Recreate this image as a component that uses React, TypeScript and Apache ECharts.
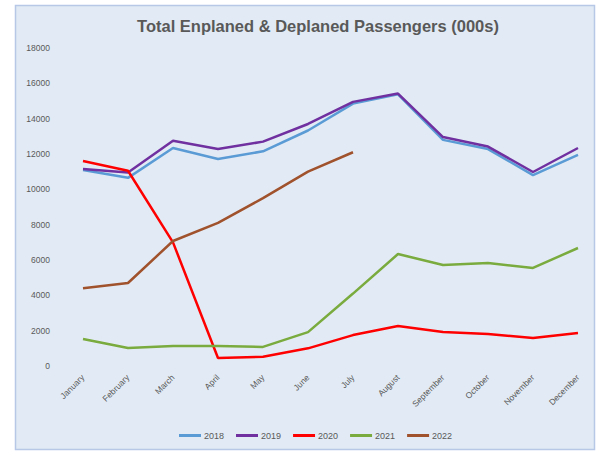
import React, { useEffect, useRef } from "react";
import * as echarts from "echarts";

const months = ["January", "February", "March", "April", "May", "June", "July", "August", "September", "October", "November", "December"];
const s2018 = [11100, 10650, 12340, 11720, 12150, 13330, 14850, 15380, 12800, 12280, 10800, 11950];
const s2019 = [11150, 10950, 12750, 12280, 12700, 13700, 14950, 15420, 12960, 12420, 10980, 12340];
const s2020 = [11600, 11050, 7000, 450, 520, 1000, 1750, 2260, 1920, 1810, 1580, 1870];
const s2021 = [1530, 1020, 1130, 1130, 1080, 1920, 4100, 6340, 5720, 5830, 5550, 6680];
const s2022 = [4400, 4700, 7075, 8100, 9500, 11000, 12100];
const seriesNames = ["2018", "2019", "2020", "2021", "2022"];
const colors = ["#5b9bd5", "#7030a0", "#ff0000", "#7aab3e", "#a0522d"];

export default function App() {
  const ref = useRef<HTMLDivElement>(null);
  useEffect(() => {
    if (!ref.current) return;
    const chart = echarts.init(ref.current, undefined, { renderer: "svg" });
    const data = [s2018, s2019, s2020, s2021, s2022];
    chart.setOption({
      animation: false,
      backgroundColor: "#ffffff",
      color: colors,
      graphic: [
        {
          type: "rect",
          z: -10,
          silent: true,
          shape: { x: 15.5, y: 5.5, width: 579, height: 444 },
          style: { fill: "#e2ebf5", stroke: "#b7c8e6", lineWidth: 1.5 },
        },
      ],
      title: {
        text: "Total Enplaned & Deplaned Passengers (000s)",
        left: 313,
        textAlign: "center",
        top: 12,
        textStyle: { fontFamily: "Liberation Sans", fontWeight: "bold", fontSize: 16.5, color: "#595959" },
      },
      legend: {
        bottom: 10,
        left: 174,
        data: seriesNames,
        itemWidth: 22,
        itemHeight: 3,
        itemGap: 12,
        icon: "rect",
        textStyle: { fontFamily: "Liberation Sans", fontSize: 9, color: "#595959", padding: [0, 0, 0, -2] },
      },
      grid: { left: 83, right: 18, top: 48, bottom: 89, containLabel: false },
      xAxis: {
        type: "category",
        data: months,
        boundaryGap: false,
        axisLine: { show: false },
        axisTick: { show: false },
        axisLabel: {
          rotate: 45,
          fontFamily: "Liberation Sans",
          fontSize: 8.5,
          color: "#595959",
          margin: 10,
          interval: 0,
        },
      },
      yAxis: {
        type: "value",
        min: 0,
        max: 18000,
        interval: 2000,
        splitLine: { show: false },
        axisLine: { show: false },
        axisTick: { show: false },
        axisLabel: {
          fontFamily: "Liberation Sans",
          fontSize: 8.5,
          color: "#595959",
          margin: 33,
          formatter: (v: number) => String(v),
        },
      },
      series: seriesNames.map((n, i) => ({
        name: n,
        type: "line",
        data: data[i],
        symbol: "none",
        lineStyle: { width: 2.5, color: colors[i] },
        itemStyle: { color: colors[i] },
      })),
    });
    return () => chart.dispose();
  }, []);
  return (
    <div style={{ position: "absolute", left: 0, top: 0, width: 596, height: 455 }}>
      <div ref={ref} style={{ width: 596, height: 455 }} />
    </div>
  );
}
